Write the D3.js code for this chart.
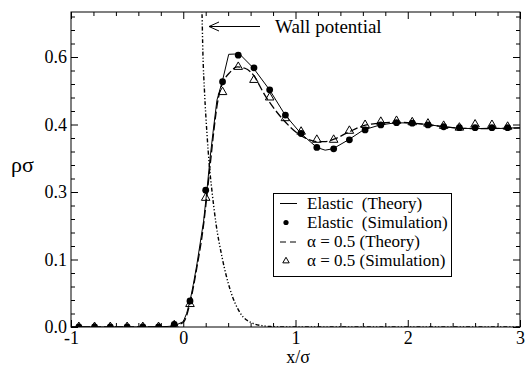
<!DOCTYPE html>
<html>
<head>
<meta charset="utf-8">
<script src="https://cdn.jsdelivr.net/npm/d3@7"></script>
<style>
  body { margin: 0; background: #fff; }
  svg { display: block; }
</style>
</head>
<body>
<div id="chart"></div>
<script>
// sample positions of the simulation points (x/sigma)
const simX = [-0.93, -0.79, -0.65, -0.50, -0.36, -0.22, -0.08, 0.06, 0.20, 0.35, 0.49, 0.63, 0.77, 0.91,
  1.05, 1.19, 1.34, 1.48, 1.62, 1.76, 1.90, 2.04, 2.18, 2.32, 2.46, 2.60, 2.75, 2.89];
const elasticSim = [0, 0, 0, 0, 0, 0, 0.006, 0.058, 0.304, 0.545, 0.604, 0.576, 0.527, 0.471,
  0.430, 0.399, 0.396, 0.416, 0.438, 0.449, 0.454, 0.453, 0.449, 0.445, 0.443, 0.443, 0.443, 0.443];
const alphaSim = [0, 0, 0, 0, 0, 0, 0.004, 0.051, 0.287, 0.522, 0.578, 0.549, 0.510, 0.464,
  0.434, 0.416, 0.416, 0.436, 0.449, 0.456, 0.458, 0.455, 0.452, 0.447, 0.443, 0.450, 0.449, 0.445];

// theory curves, [x, rho*sigma]
const elasticTheory = [[-1, 0], [-0.2, 0], [-0.1, 0.002], [-0.05, 0.006], [0, 0.012], [0.03, 0.03],
  [0.062, 0.06], [0.09, 0.095], [0.122, 0.14], [0.15, 0.185], [0.181, 0.235], [0.211, 0.304],
  [0.24, 0.378], [0.264, 0.43], [0.3, 0.504], [0.35, 0.548], [0.405, 0.606], [0.5, 0.607],
  [0.623, 0.576], [0.769, 0.527], [0.908, 0.471], [1.048, 0.430], [1.19, 0.399], [1.264, 0.393],
  [1.333, 0.396], [1.472, 0.416], [1.606, 0.438], [1.754, 0.449], [1.897, 0.454], [2.036, 0.453],
  [2.179, 0.450], [2.318, 0.445], [2.46, 0.4415], [2.6, 0.441], [2.8, 0.441], [3, 0.443]];
const alphaTheory = [[-1, 0], [-0.2, 0], [-0.1, 0.002], [0, 0.01], [0.06, 0.053], [0.12, 0.13],
  [0.18, 0.225], [0.21, 0.29], [0.24, 0.36], [0.27, 0.43], [0.3, 0.49], [0.33, 0.527],
  [0.42, 0.567], [0.48, 0.578], [0.55, 0.575], [0.6, 0.567], [0.745, 0.508], [0.893, 0.46],
  [1.05, 0.425], [1.2, 0.412], [1.27, 0.412], [1.35, 0.418], [1.48, 0.434], [1.6, 0.447],
  [1.75, 0.453], [1.9, 0.455], [2.05, 0.453], [2.2, 0.449], [2.4, 0.443], [2.6, 0.441], [3, 0.442]];
const wallPotential = [[0.16, 0.75], [0.167, 0.698], [0.175, 0.609], [0.19, 0.52], [0.211, 0.431],
  [0.232, 0.36], [0.255, 0.304], [0.291, 0.231], [0.345, 0.156], [0.419, 0.082], [0.508, 0.031],
  [0.612, 0.009], [0.7, 0.003], [0.775, 0.001], [0.85, 0], [3, 0]];

const xTicks = [-1, 0, 1, 2, 3];
const xTickLabels = ['-1', '0', '1', '2', '3'];
const yTicks = [0, 0.15, 0.3, 0.45, 0.6];
const yTickLabels = ['0.0', '0.1', '0.3', '0.4', '0.6'];
const legendLabels = ['Elastic  (Theory)', 'Elastic  (Simulation)', 'α = 0.5 (Theory)', 'α = 0.5 (Simulation)'];

const width = 525, height = 366;
const frame = { left: 71, right: 520, top: 12, bottom: 327 };
const serif = "'Liberation Serif', 'Times New Roman', Times, 'DejaVu Serif', serif";

const svg = d3.select('#chart').append('svg')
  .attr('width', width)
  .attr('height', height);

const x = d3.scaleLinear().domain([-1, 3]).range([frame.left, frame.right]);
const y = d3.scaleLinear().domain([0, 0.7]).range([frame.bottom, frame.top]);

const xMinor = d3.range(-1, 3.001, 0.2).filter(v => Math.abs(v - Math.round(v)) > 1e-6);
const yMinor = d3.range(0, 0.7, 0.03).filter(v => !yTicks.some(t => Math.abs(t - v) < 1e-6));

svg.append('defs').append('clipPath').attr('id', 'plot-clip')
  .append('rect')
  .attr('x', frame.left).attr('y', frame.top)
  .attr('width', frame.right - frame.left).attr('height', frame.bottom - frame.top);

// axes with inward ticks on all four sides
function styleAxis(g) {
  g.attr('font-family', serif).attr('font-size', 18);
  g.select('.domain').remove();
  g.selectAll('line').attr('stroke', '#000').attr('stroke-width', 1);
  g.selectAll('text').attr('fill', '#000');
}

svg.append('g').attr('transform', `translate(0,${frame.bottom})`)
  .call(d3.axisBottom(x).tickValues(xTicks).tickSize(-7).tickPadding(4).tickFormat((d, i) => xTickLabels[i]))
  .call(styleAxis);
svg.append('g').attr('transform', `translate(0,${frame.bottom})`)
  .call(d3.axisBottom(x).tickValues(xMinor).tickSize(-4).tickFormat(''))
  .call(styleAxis);
svg.append('g').attr('transform', `translate(0,${frame.top})`)
  .call(d3.axisTop(x).tickValues(xTicks).tickSize(-7).tickFormat(''))
  .call(styleAxis);
svg.append('g').attr('transform', `translate(0,${frame.top})`)
  .call(d3.axisTop(x).tickValues(xMinor).tickSize(-4).tickFormat(''))
  .call(styleAxis);

svg.append('g').attr('transform', `translate(${frame.left},0)`)
  .call(d3.axisLeft(y).tickValues(yTicks).tickSize(-7).tickPadding(4).tickFormat((d, i) => yTickLabels[i]))
  .call(styleAxis);
svg.append('g').attr('transform', `translate(${frame.left},0)`)
  .call(d3.axisLeft(y).tickValues(yMinor).tickSize(-4).tickFormat(''))
  .call(styleAxis);
svg.append('g').attr('transform', `translate(${frame.right},0)`)
  .call(d3.axisRight(y).tickValues(yTicks).tickSize(-7).tickFormat(''))
  .call(styleAxis);
svg.append('g').attr('transform', `translate(${frame.right},0)`)
  .call(d3.axisRight(y).tickValues(yMinor).tickSize(-4).tickFormat(''))
  .call(styleAxis);

svg.append('rect')
  .attr('x', frame.left).attr('y', frame.top)
  .attr('width', frame.right - frame.left).attr('height', frame.bottom - frame.top)
  .attr('fill', 'none').attr('stroke', '#000').attr('stroke-width', 1);

// axis titles
svg.append('text').attr('x', 11).attr('y', 172)
  .attr('font-size', 22).text('ρσ');
svg.append('text').attr('x', 298).attr('y', 363).attr('text-anchor', 'middle')
  .attr('font-size', 18).text('x/σ');

const plot = svg.append('g').attr('clip-path', 'url(#plot-clip)');
const line = d3.line().x(d => x(d[0])).y(d => y(d[1]));

plot.append('path').datum(wallPotential)
  .attr('d', line.curve(d3.curveMonotoneX))
  .attr('fill', 'none').attr('stroke', '#000').attr('stroke-width', 1.4)
  .attr('stroke-dasharray', '4,2,1.2,2,1.2,2');

plot.append('path').datum(alphaTheory)
  .attr('d', line.curve(d3.curveMonotoneX))
  .attr('fill', 'none').attr('stroke', '#000').attr('stroke-width', 1.3)
  .attr('stroke-dasharray', '8,3');

plot.append('path').datum(elasticTheory)
  .attr('d', line.curve(d3.curveLinear))
  .attr('fill', 'none').attr('stroke', '#000').attr('stroke-width', 1);

plot.append('g').selectAll('circle')
  .data(simX.map((v, i) => [v, elasticSim[i]]))
  .enter()
  .append('circle')
  .attr('cx', d => x(d[0]))
  .attr('cy', d => y(d[1]))
  .attr('r', 3.4)
  .attr('fill', '#000');

const triangle = d3.symbol().type(d3.symbolTriangle).size(32);
plot.append('g').selectAll('path')
  .data(simX.map((v, i) => [v, alphaSim[i]]))
  .enter()
  .append('path')
  .attr('d', triangle)
  .attr('transform', d => `translate(${x(d[0])},${y(d[1])})`)
  .attr('fill', 'none')
  .attr('stroke', '#000').attr('stroke-width', 1);

// wall potential annotation
svg.append('line')
  .attr('x1', 260).attr('y1', 26.5).attr('x2', 209).attr('y2', 26.5)
  .attr('stroke', '#000').attr('stroke-width', 1);
svg.append('path')
  .attr('d', 'M219,22 L209,26.5 L219,31')
  .attr('fill', 'none').attr('stroke', '#000').attr('stroke-width', 1);
svg.append('text').attr('x', 275).attr('y', 33)
  .attr('font-size', 19).text('Wall potential');

// legend
const legend = svg.append('g').classed('legend', true);
legend.append('rect')
  .attr('x', 273.5).attr('y', 193.5).attr('width', 178).attr('height', 83)
  .attr('fill', '#fff').attr('stroke', '#000').attr('stroke-width', 1);
const rowY = [203.5, 222.5, 242, 261];
legend.selectAll('text')
  .data(legendLabels)
  .enter()
  .append('text')
  .attr('x', 307)
  .attr('y', (d, i) => rowY[i] + 5)
  .attr('font-size', 17)
  .style('white-space', 'pre')
  .text(d => d);
legend.append('line')
  .attr('x1', 280).attr('x2', 297).attr('y1', rowY[0]).attr('y2', rowY[0])
  .attr('stroke', '#000');
legend.append('circle').attr('cx', 286).attr('cy', rowY[1]).attr('r', 2.6).attr('fill', '#000');
legend.append('line')
  .attr('x1', 280).attr('x2', 298).attr('y1', rowY[2]).attr('y2', rowY[2])
  .attr('stroke', '#000').attr('stroke-dasharray', '6,4');
legend.append('path')
  .attr('d', d3.symbol().type(d3.symbolTriangle).size(18))
  .attr('transform', `translate(286,${rowY[3]})`)
  .attr('fill', 'none').attr('stroke', '#000');

svg.selectAll('text').attr('font-family', serif).attr('fill', '#000');
</script>
</body>
</html>
